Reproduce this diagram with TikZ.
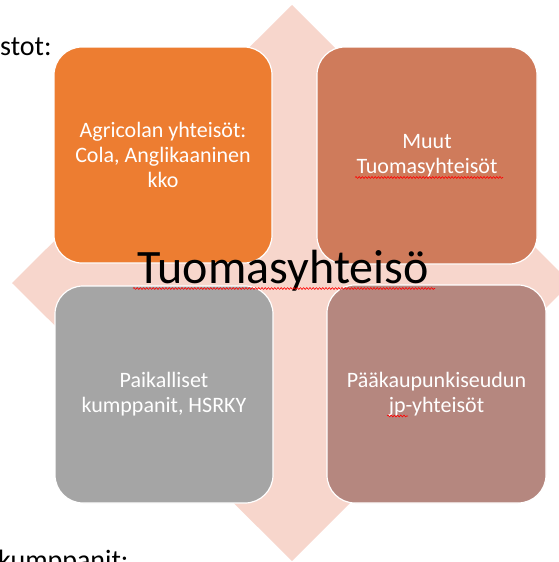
\documentclass[tikz,border=0pt]{standalone}
\usepackage{fontspec}
\setmainfont{Carlito}
\usetikzlibrary{decorations.pathmorphing}
\definecolor{diamondpink}{HTML}{F7D6CC}
\definecolor{boxorange}{HTML}{ED7D31}
\definecolor{boxbrown}{HTML}{CF7B5B}
\definecolor{boxgray}{HTML}{A5A5A5}
\definecolor{boxrose}{HTML}{B5877F}
\tikzset{
  quadbox/.style={draw=white, line width=1.2pt, rounded corners=28pt, text=white,
    align=center, font=\fontsize{22}{25}\selectfont, inner sep=0pt},
  spell/.style={draw=red, line width=0.6pt, decorate,
    decoration={snake, amplitude=0.9pt, segment length=3.2pt}},
  sidetext/.style={font=\fontsize{28}{32}\selectfont, text=black, inner sep=0pt}
}
\begin{document}
\begin{tikzpicture}[x=1pt, y=-1pt]
\useasboundingbox (0,0) rectangle (559,562);
\clip (0,0) rectangle (559,562);
% background diamond
\fill[diamondpink] (292,5) -- (571,283) -- (292,561) -- (12,283) -- cycle;
% side labels
\node[sidetext, anchor=base west] (lbltop) at (0,55) {stot:};
\node[sidetext, anchor=base west] (lblbottom) at (-2,569) {kumppanit:};
% four boxes
\node[quadbox, fill=boxorange, minimum width=218pt, minimum height=216pt] (agricola) at (163,155)
  {Agricolan yhteisöt:\\Cola, Anglikaaninen\\kko};
\node[quadbox, fill=boxbrown, minimum width=220pt, minimum height=217pt] (muut) at (427,155.5)
  {Muut\\Tuomasyhteisöt};
\node[quadbox, fill=boxgray, minimum width=218pt, minimum height=217pt] (paikalliset) at (164,394.5)
  {Paikalliset\\kumppanit, HSRKY};
\node[quadbox, fill=boxrose, minimum width=219pt, minimum height=218pt] (paakaupunki) at (436.5,394)
  {Pääkaupunkiseudun\\jp-yhteisöt};
% centre title
\node[font=\fontsize{48}{52}\selectfont, text=black, inner sep=0pt, anchor=base] (title) at (283,283) {Tuomasyhteisö};
% spell-check marks
\draw[spell] (133,288.5) -- (435,288.5);
\draw[spell] (355,177.5) -- (503,177.5);
\draw[spell] (387,416) -- (408,416);
\end{tikzpicture}
\end{document}
